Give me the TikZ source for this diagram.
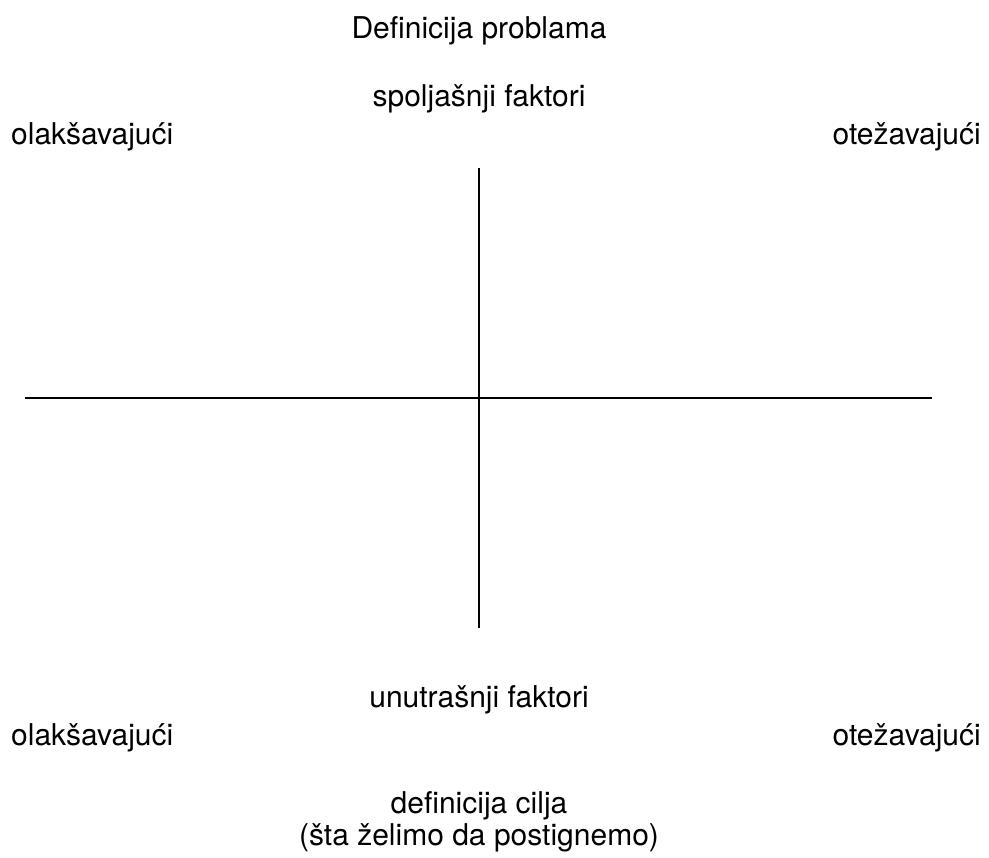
\documentclass[tikz,border=0pt]{standalone}
\usepackage{fontspec}
\setmainfont{TeX Gyre Heros}
\begin{document}
\begin{tikzpicture}[x=1pt,y=-1pt,
  lbl/.style={inner sep=0pt,font=\fontsize{30}{34}\selectfont},
  axis/.style={line width=1.6pt,black}]
\useasboundingbox (0,0) rectangle (989,858);
% headings
\node[lbl,anchor=base] (title) at (479,39) {Definicija problama};
\node[lbl,anchor=base] (ext) at (479,107) {spoljašnji faktori};
\node[lbl,anchor=base west] (extL) at (11,145) {olakšavajući};
\node[lbl,anchor=base east] (extR) at (981,145) {otežavajući};
% axes
\coordinate (vtop) at (479,168);
\coordinate (vbot) at (479,628);
\coordinate (hl) at (25,398);
\coordinate (hr) at (932,398);
\draw[axis] (vtop) -- (vbot);
\draw[axis] (hl) -- (hr);
% lower labels
\node[lbl,anchor=base] (int) at (479,707) {unutrašnji faktori};
\node[lbl,anchor=base west] (intL) at (11,745) {olakšavajući};
\node[lbl,anchor=base east] (intR) at (981,745) {otežavajući};
\node[lbl,anchor=base] (goal) at (479,813) {definicija cilja};
\node[lbl,anchor=base] (goal2) at (479,845) {(šta želimo da postignemo)};
\end{tikzpicture}
\end{document}
